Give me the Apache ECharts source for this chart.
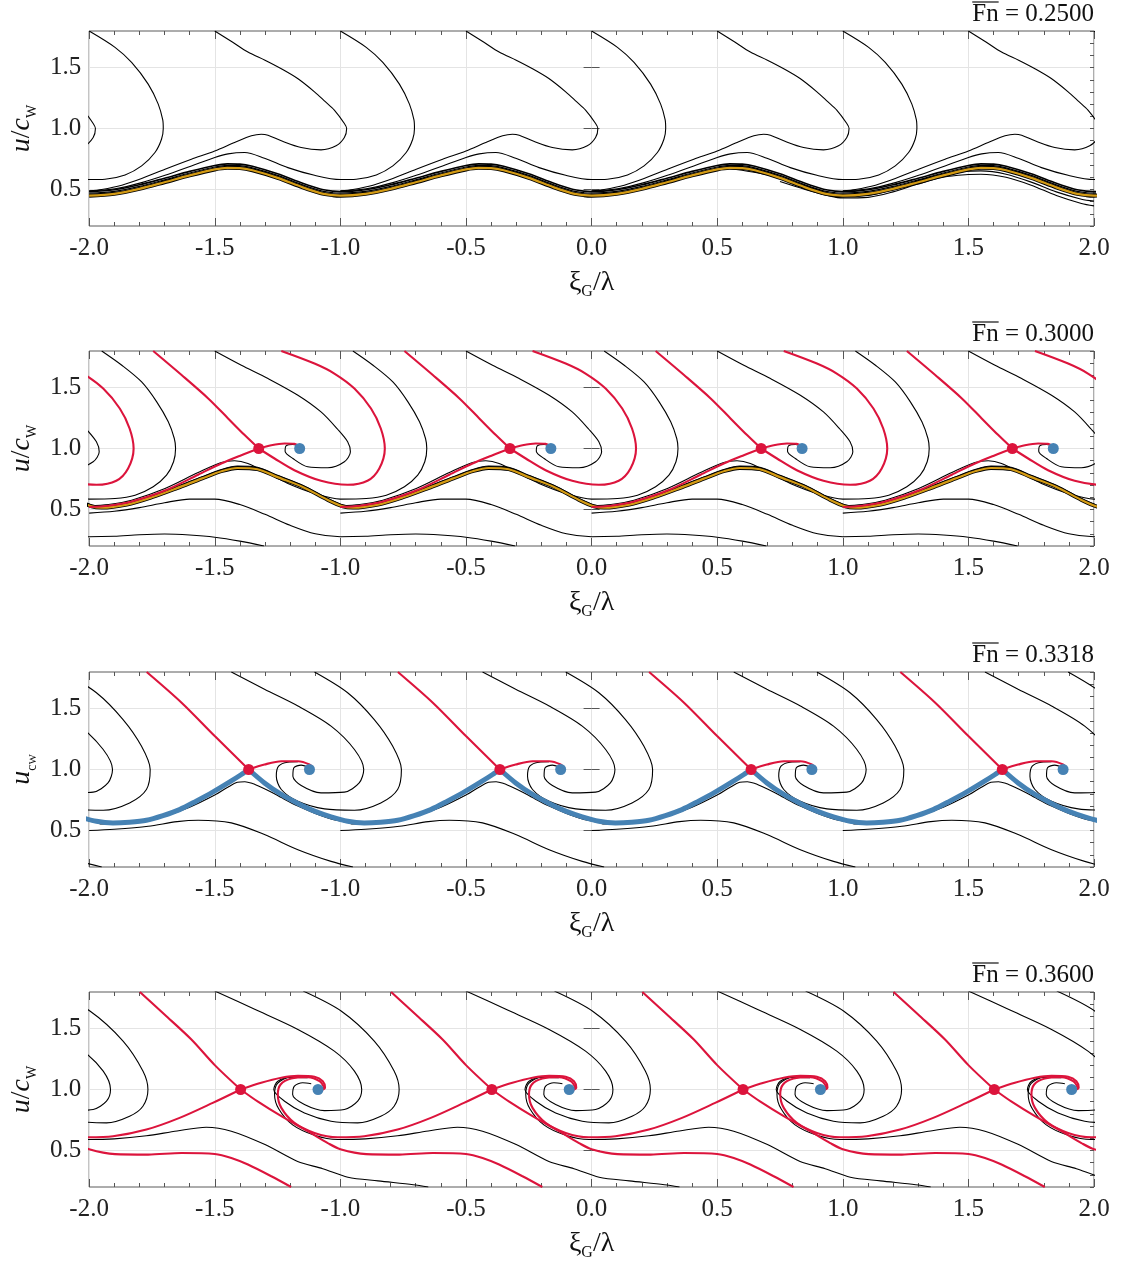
<!DOCTYPE html>
<html>
<head>
<meta charset="utf-8">
<script src="https://cdn.jsdelivr.net/npm/echarts@6/dist/echarts.min.js"></script>
<style>
html, body { margin: 0; padding: 0; background: #fff; }
#chart { width: 1121px; height: 1263px; }
</style>
</head>
<body>
<div id="chart"></div>
<script>
// ---- values (x = xi_G/lambda, y = u/c_w) ----
var froudeNumbers = ['0.2500', '0.3000', '0.3318', '0.3600'];
var yMajorTicks = [0.5, 1.0, 1.5];
var waveShifts = [0, 1, 2, 3, 4];          // the portrait repeats every wave length
var curveShifts = [-1, 0, 1, 2, 3];

// Fn = 0.25 : attracting orbit bundle (one period) and trajectories
var p1OrbitTop = [[-2.0,0.482],[-1.9,0.497],[-1.8,0.538],[-1.7,0.592],[-1.6,0.648],[-1.5,0.697],[-1.45,0.71],[-1.4,0.708],[-1.35,0.69],[-1.25,0.628],[-1.15,0.55],[-1.08,0.503],[-1.03,0.486]];
var p1OrbitMid = [[-2.0,0.469],[-1.9,0.484],[-1.8,0.525],[-1.7,0.579],[-1.6,0.635],[-1.5,0.684],[-1.45,0.697],[-1.4,0.695],[-1.35,0.677],[-1.25,0.615],[-1.15,0.537],[-1.08,0.49],[-1.03,0.473]];
var p1Orbit = [[-2.0,0.449],[-1.9,0.464],[-1.8,0.505],[-1.7,0.559],[-1.6,0.615],[-1.5,0.664],[-1.45,0.677],[-1.4,0.675],[-1.35,0.657],[-1.25,0.595],[-1.15,0.517],[-1.08,0.47],[-1.03,0.453]];
var p1Narrow = [[-1.0,1.8],[-0.897,1.666],[-0.831,1.542],[-0.765,1.364],[-0.725,1.2],[-0.707,1.07],[-0.705,1.0],[-0.712,0.912],[-0.738,0.803],[-0.791,0.693],[-0.857,0.619],[-0.937,0.584],[-1.0,0.581],[-1.103,0.616],[-1.209,0.679],[-1.302,0.756],[-1.381,0.803],[-1.447,0.792],[-1.5,0.762],[-1.593,0.693],[-1.698,0.616],[-1.791,0.556],[-1.897,0.505],[-2.0,0.485]];
var p1Wide = [[-1.5,1.8],[-1.43,1.71],[-1.368,1.627],[-1.3,1.56],[-1.235,1.49],[-1.17,1.41],[-1.103,1.301],[-1.06,1.22],[-1.024,1.151],[-0.984,1.041],[-0.975,1.0],[-0.984,0.926],[-1.017,0.858],[-1.077,0.825],[-1.156,0.844],[-1.235,0.899],[-1.288,0.945],[-1.315,0.953],[-1.354,0.94],[-1.421,0.885],[-1.5,0.816],[-1.593,0.748],[-1.698,0.666],[-1.791,0.59],[-1.87,0.535],[-1.95,0.5],[-2.0,0.488]];
var p1ExtraA = [[0.55,0.672],[0.7,0.62],[0.85,0.53],[1.0,0.445],[1.1,0.45],[1.2,0.5],[1.3,0.57],[1.4,0.625],[1.5,0.65],[1.55,0.652],[1.65,0.625],[1.75,0.56],[1.85,0.48],[1.95,0.42],[2.0,0.405]];
var p1ExtraB = [[0.75,0.565],[0.85,0.5],[0.95,0.445],[1.0,0.43],[1.1,0.435],[1.2,0.48],[1.3,0.545],[1.4,0.6],[1.5,0.622],[1.55,0.625],[1.65,0.6],[1.75,0.535],[1.85,0.45],[1.95,0.385],[2.0,0.365]];

// Fn = 0.30
var p2Saddles = [[-1.325,1.0],[-0.325,1.0],[0.675,1.0],[1.675,1.0]];
var p2Centers = [[-1.162,1.0],[-0.162,1.0],[0.838,1.0],[1.838,1.0]];
var p2SepUp = [[-1.325,1.0],[-1.381,1.11],[-1.447,1.247],[-1.526,1.411],[-1.632,1.603],[-1.745,1.8]];
var p2SepLeft = [[-1.325,1.0],[-1.394,0.945],[-1.474,0.877],[-1.566,0.785],[-1.698,0.655],[-1.831,0.565],[-1.923,0.53],[-2.0,0.52]];
var p2SepRight = [[-1.325,1.0],[-1.275,1.027],[-1.222,1.041],[-1.183,1.038],[-1.165,1.02]];
var p2SepLoop = [[-1.325,1.0],[-1.262,0.918],[-1.183,0.822],[-1.077,0.735],[-0.971,0.702],[-0.892,0.735],[-0.845,0.836],[-0.823,1.0],[-0.839,1.164],[-0.878,1.328],[-0.944,1.492],[-1.024,1.615],[-1.103,1.697],[-1.235,1.8]];
var p2Spiral = [[-1.5,1.8],[-1.394,1.683],[-1.288,1.574],[-1.169,1.437],[-1.077,1.3],[-1.011,1.158],[-0.971,1.055],[-0.96,0.973],[-0.984,0.891],[-1.05,0.842],[-1.13,0.85],[-1.189,0.918],[-1.22,0.978],[-1.216,1.022],[-1.189,1.033],[-1.172,1.027]];
var p2Narrow = [[-0.95,1.8],[-0.87,1.683],[-0.791,1.546],[-0.731,1.383],[-0.685,1.219],[-0.661,1.082],[-0.656,1.0],[-0.664,0.891],[-0.692,0.781],[-0.745,0.686],[-0.817,0.617],[-0.897,0.59],[-1.0,0.585],[-1.103,0.631],[-1.209,0.713],[-1.288,0.795],[-1.368,0.877],[-1.421,0.899],[-1.474,0.885],[-1.566,0.803],[-1.698,0.672],[-1.831,0.576],[-1.923,0.541],[-2.0,0.53]];
var p2Orbit = [[-1.95,0.515],[-1.85,0.54],[-1.75,0.6],[-1.65,0.675],[-1.55,0.755],[-1.47,0.815],[-1.41,0.84],[-1.33,0.83],[-1.25,0.765],[-1.15,0.685],[-1.05,0.578],[-0.99,0.525]];
var p2OrbitTop = [[-1.95,0.527],[-1.85,0.553],[-1.75,0.613],[-1.65,0.689],[-1.55,0.769],[-1.47,0.83],[-1.41,0.856],[-1.33,0.846],[-1.25,0.78],[-1.15,0.699],[-1.05,0.59],[-0.99,0.537]];
var p2Lower = [[-0.304,0.2],[-0.4,0.24],[-0.5,0.272],[-0.6,0.29],[-0.7,0.298],[-0.8,0.292],[-0.9,0.28],[-1.0,0.276],[-1.1,0.3],[-1.2,0.37],[-1.3,0.46],[-1.4,0.54],[-1.5,0.585],[-1.6,0.585],[-1.7,0.555],[-1.8,0.515],[-1.9,0.485],[-2.0,0.47]];

// Fn = 0.3318
var p3Saddles = [[-1.365,1.0],[-0.365,1.0],[0.635,1.0],[1.635,1.0]];
var p3Centers = [[-1.123,1.0],[-0.123,1.0],[0.877,1.0],[1.877,1.0]];
var p3SepUp = [[-1.365,1.0],[-1.5,1.274],[-1.632,1.548],[-1.771,1.8]];
var p3SepRight = [[-1.365,1.0],[-1.302,1.041],[-1.235,1.068],[-1.169,1.068],[-1.123,1.041],[-1.108,1.01]];
var p3Homoclinic = [[-1.365,1.0],[-1.302,0.89],[-1.235,0.795],[-1.169,0.721],[-1.103,0.658],[-1.037,0.611],[-0.971,0.575],[-0.905,0.562],[-0.84,0.568],[-0.772,0.584],[-0.706,0.622],[-0.64,0.671],[-0.574,0.74],[-0.508,0.814],[-0.442,0.896],[-0.394,0.959],[-0.365,1.0]];
var p3UnderCusp = [[-1.95,0.553],[-1.9,0.556],[-1.8,0.575],[-1.7,0.617],[-1.6,0.69],[-1.5,0.79],[-1.45,0.852],[-1.41,0.895],[-1.38,0.9],[-1.35,0.885],[-1.315,0.855],[-1.27,0.81],[-1.235,0.77],[-1.169,0.7],[-1.1,0.64],[-1.037,0.595],[-0.97,0.565]];
var p3SpiralInner = [[-1.434,1.8],[-1.302,1.658],[-1.169,1.521],[-1.037,1.356],[-0.944,1.164],[-0.907,1.0],[-0.925,0.89],[-0.984,0.814],[-1.077,0.808],[-1.156,0.868],[-1.189,0.945],[-1.185,1.014],[-1.156,1.036],[-1.13,1.022]];
var p3SpiralOuter = [[-1.103,1.8],[-0.971,1.63],[-0.865,1.41],[-0.792,1.192],[-0.757,1.0],[-0.772,0.836],[-0.839,0.726],[-0.944,0.666],[-1.063,0.677],[-1.169,0.74],[-1.235,0.836],[-1.255,0.945],[-1.246,1.027],[-1.209,1.06],[-1.169,1.063]];
var p3Lower = [[-0.95,0.2],[-1.037,0.246],[-1.169,0.342],[-1.302,0.466],[-1.434,0.562],[-1.566,0.584],[-1.65,0.572],[-1.765,0.534],[-1.9,0.51],[-2.0,0.5]];

// Fn = 0.36
var p4Saddles = [[-1.397,1.0],[-0.397,1.0],[0.603,1.0],[1.603,1.0]];
var p4Centers = [[-1.089,1.0],[-0.089,1.0],[0.911,1.0],[1.911,1.0]];
var p4SepUp = [[-1.397,1.0],[-1.5,1.2],[-1.593,1.41],[-1.7,1.615],[-1.798,1.8]];
var p4SepRight = [[-1.397,1.0],[-1.315,1.055],[-1.235,1.096],[-1.169,1.112],[-1.103,1.104],[-1.07,1.068],[-1.061,1.014],[-1.075,0.995]];
var p4SepSpiral = [[-0.397,1.0],[-0.508,0.89],[-0.64,0.767],[-0.772,0.671],[-0.905,0.616],[-1.011,0.608],[-1.103,0.644],[-1.183,0.726],[-1.235,0.849],[-1.249,0.959],[-1.238,1.041],[-1.196,1.09],[-1.13,1.101],[-1.083,1.068],[-1.066,1.014],[-1.077,0.99]];
var p4SepDown = [[-1.397,1.0],[-1.328,0.9],[-1.235,0.781],[-1.13,0.658],[-1.05,0.56],[-1.0,0.51],[-0.897,0.47],[-0.765,0.466],[-0.632,0.479],[-0.5,0.471],[-0.434,0.438],[-0.368,0.384],[-0.275,0.288],[-0.196,0.2]];
var p4SpiralInner = [[-1.5,1.808],[-1.341,1.658],[-1.169,1.493],[-1.024,1.315],[-0.944,1.151],[-0.915,1.0],[-0.931,0.904],[-0.984,0.836],[-1.063,0.827],[-1.143,0.877],[-1.19,0.959],[-1.183,1.027],[-1.15,1.055],[-1.116,1.047]];
var p4SpiralOuter = [[-1.148,1.808],[-0.997,1.644],[-0.865,1.397],[-0.786,1.151],[-0.766,1.0],[-0.786,0.863],[-0.839,0.781],[-0.931,0.726],[-1.037,0.74],[-1.143,0.808],[-1.222,0.904],[-1.265,1.0],[-1.249,1.068],[-1.196,1.101],[-1.13,1.096]];
var p4Lower = [[0.35,0.2],[0.29,0.219],[0.15,0.25],[0.03,0.28],[-0.07,0.35],[-0.17,0.41],[-0.3,0.548],[-0.434,0.658],[-0.534,0.69],[-0.65,0.66],[-0.772,0.62],[-0.9,0.595],[-1.011,0.59],[-1.103,0.625],[-1.19,0.71],[-1.245,0.84],[-1.262,0.96],[-1.25,1.05],[-1.2,1.1],[-1.14,1.1]];

// ---- styling ----
var SERIF = '"Liberation Serif", "DejaVu Serif", serif';
var BLACK = '#000000', RED = '#dc143c', BLUE = '#4682b4', GOLD = '#d49b14';
var gridTops = [31, 351, 672, 992];

function tile(period, shifts) {
  var out = [];
  shifts.forEach(function (k) {
    period.forEach(function (p) { out.push([p[0] + k, p[1]]); });
  });
  return out;
}
function copies(curve, shifts) {
  return shifts.map(function (k) {
    return curve.map(function (p) { return [p[0] + k, p[1]]; });
  });
}

var series = [];
function line(g, data, color, width, z, smooth) {
  series.push({
    type: 'line', xAxisIndex: g, yAxisIndex: g, data: data,
    symbol: 'none', smooth: smooth === undefined ? 0.3 : smooth,
    lineStyle: { color: color, width: width }, z: z,
    silent: true, animation: false, clip: true
  });
}
function lines(g, curve, color, width, z) {
  copies(curve, curveShifts).forEach(function (d) { line(g, d, color, width, z); });
}
function dots(g, pts, color) {
  series.push({
    type: 'scatter', xAxisIndex: g, yAxisIndex: g, data: pts,
    symbolSize: 11, itemStyle: { color: color, opacity: 1 }, z: 10,
    silent: true, animation: false
  });
}

// panel 1
line(0, tile(p1OrbitTop, waveShifts), BLACK, 1.6, 2);
line(0, tile(p1OrbitMid, waveShifts), BLACK, 1.2, 2);
line(0, tile(p1Orbit, waveShifts), BLACK, 4, 3);
line(0, tile(p1Orbit, waveShifts), GOLD, 2.2, 4);
lines(0, p1Narrow, BLACK, 1.1, 2);
lines(0, p1Wide, BLACK, 1.1, 2);
line(0, p1ExtraA, BLACK, 1.1, 2);
line(0, p1ExtraB, BLACK, 1.1, 2);

// panel 2
lines(1, p2Spiral, BLACK, 1.1, 2);
lines(1, p2Narrow, BLACK, 1.1, 2);
lines(1, p2Lower, BLACK, 1.1, 2);
line(1, tile(p2OrbitTop, curveShifts.concat([4])), BLACK, 1.1, 2);
line(1, tile(p2Orbit, curveShifts.concat([4])), BLACK, 3.8, 3);
line(1, tile(p2Orbit, curveShifts.concat([4])), GOLD, 2.2, 4);
lines(1, p2SepUp, RED, 2.1, 5);
lines(1, p2SepLeft, RED, 2.1, 5);
lines(1, p2SepRight, RED, 2.1, 5);
lines(1, p2SepLoop, RED, 2.1, 5);
dots(1, p2Saddles, RED);
dots(1, p2Centers, BLUE);

// panel 3
lines(2, p3SpiralInner, BLACK, 1.1, 2);
lines(2, p3SpiralOuter, BLACK, 1.1, 2);
lines(2, p3Lower, BLACK, 1.1, 2);
line(2, tile(p3UnderCusp, curveShifts.concat([4])), BLACK, 1.1, 2);
lines(2, p3Homoclinic, BLUE, 5, 4);
lines(2, p3SepUp, RED, 2.1, 5);
lines(2, p3SepRight, RED, 2.1, 5);
dots(2, p3Saddles, RED);
dots(2, p3Centers, BLUE);

// panel 4
lines(3, p4SpiralInner, BLACK, 1.1, 2);
lines(3, p4SpiralOuter, BLACK, 1.1, 2);
lines(3, p4Lower, BLACK, 1.1, 2);
lines(3, p4SepUp, RED, 2.1, 5);
lines(3, p4SepRight, RED, 2.1, 5);
lines(3, p4SepSpiral, RED, 2.1, 5);
lines(3, p4SepDown, RED, 2.1, 5);
dots(3, p4Saddles, RED);
dots(3, p4Centers, BLUE);

// ---- axes ----
var tickColor = '#555';
var grids = [], xAxes = [], yAxes = [];
var yNames = [
  '{i|u}{n|/}{i|c}{s|W}',
  '{i|u}{n|/}{i|c}{s|W}',
  '{i|u}{s|c}{ss|W}',
  '{i|u}{n|/}{i|c}{s|W}'
];
var yRich = {
  i: { fontFamily: SERIF, fontStyle: 'italic', fontSize: 28, lineHeight: 34, color: '#111' },
  n: { fontFamily: SERIF, fontSize: 28, lineHeight: 34, color: '#111' },
  s: { fontFamily: SERIF, fontSize: 14, lineHeight: 15, verticalAlign: 'bottom', color: '#111' },
  ss: { fontFamily: SERIF, fontSize: 11, lineHeight: 9, verticalAlign: 'bottom', color: '#111' }
};
var xRich = {
  n: { fontFamily: SERIF, fontSize: 28, lineHeight: 34, color: '#111' },
  s: { fontFamily: SERIF, fontSize: 16, lineHeight: 16, verticalAlign: 'bottom', color: '#111' }
};
var labelFont = 25;

for (var g = 0; g < 4; g++) {
  grids.push({ left: 87, right: 27, top: gridTops[g], height: 195, show: true,
    borderColor: '#5a5a5a', borderWidth: 1, backgroundColor: 'transparent' });
}
for (g = 0; g < 4; g++) {
  xAxes.push({
    type: 'value', gridIndex: g, min: -2, max: 2, interval: 0.5,
    axisLine: { show: false },
    axisTick: { inside: true, length: 8, lineStyle: { color: tickColor } },
    minorTick: { show: true, splitNumber: 5, length: 4, lineStyle: { color: tickColor } },
    axisLabel: { formatter: function (v) { return v.toFixed(1); }, fontFamily: SERIF,
      fontSize: labelFont, color: '#222', margin: 10, showMinLabel: true, showMaxLabel: true },
    splitLine: { show: true, lineStyle: { color: '#e4e4e4', width: 1 } },
    name: '{n|ξ}{s|G}{n|/λ}', nameLocation: 'middle', nameGap: 40,
    nameTextStyle: { rich: xRich }
  });
}
for (g = 0; g < 4; g++) {
  xAxes.push({
    type: 'value', gridIndex: g, min: -2, max: 2, interval: 0.5, position: 'top',
    axisLine: { show: false },
    axisTick: { inside: true, length: 8, lineStyle: { color: tickColor } },
    minorTick: { show: true, splitNumber: 5, length: 4, lineStyle: { color: tickColor } },
    axisLabel: { show: false }, splitLine: { show: false }
  });
}
for (g = 0; g < 4; g++) {
  yAxes.push({
    type: 'value', gridIndex: g, min: 0.2, max: 1.8,
    axisLine: { show: false },
    axisTick: { inside: true, length: 8, customValues: yMajorTicks, lineStyle: { color: tickColor } },
    axisLabel: { customValues: yMajorTicks, formatter: function (v) { return v.toFixed(1); },
      fontFamily: SERIF, fontSize: labelFont, color: '#222', margin: 8 },
    splitLine: { show: true, lineStyle: { color: '#e4e4e4', width: 1 } },
    name: yNames[g], nameLocation: 'middle', nameRotate: 90, nameGap: 43,
    nameTextStyle: { rich: yRich }
  });
}
for (g = 0; g < 4; g++) {
  yAxes.push({
    type: 'value', gridIndex: g, min: 0.2, max: 1.8, position: 'right',
    axisLine: { show: false },
    axisTick: { inside: true, length: 8, customValues: yMajorTicks, lineStyle: { color: tickColor } },
    axisLabel: { show: false }, splitLine: { show: false }
  });
}
for (g = 0; g < 4; g++) {
  yAxes.push({
    type: 'value', gridIndex: g, min: 0.2, max: 1.8, interval: 0.1,
    axisLine: { show: false },
    axisTick: { inside: true, length: 4, lineStyle: { color: tickColor } },
    axisLabel: { show: false }, splitLine: { show: false }
  });
  yAxes.push({
    type: 'value', gridIndex: g, min: 0.2, max: 1.8, interval: 0.1, position: 'right',
    axisLine: { show: false },
    axisTick: { inside: true, length: 4, lineStyle: { color: tickColor } },
    axisLabel: { show: false }, splitLine: { show: false }
  });
}

// titles: "Fn = ..." with an overline on Fn
var titleFont = '25px "Liberation Serif"';
var ctx = document.createElement('canvas').getContext('2d');
ctx.font = titleFont;
var graphics = [];
for (g = 0; g < 4; g++) {
  var txt = 'Fn = ' + froudeNumbers[g];
  var wAll = ctx.measureText(txt).width;
  var wFn = ctx.measureText('Fn').width;
  var ty = gridTops[g] - 17;
  graphics.push({ type: 'text', x: 1094, y: ty,
    style: { text: txt, font: titleFont, fill: '#111', align: 'right', verticalAlign: 'middle' } });
  graphics.push({ type: 'line', shape: { x1: 1094 - wAll, y1: ty - 12, x2: 1094 - wAll + wFn, y2: ty - 12 },
    style: { stroke: '#111', lineWidth: 1.2 } });
}

var chart = echarts.init(document.getElementById('chart'), null, { renderer: 'canvas' });
chart.setOption({
  animation: false,
  backgroundColor: '#fff',
  grid: grids,
  xAxis: xAxes,
  yAxis: yAxes,
  graphic: graphics,
  series: series
});
</script>
</body>
</html>
